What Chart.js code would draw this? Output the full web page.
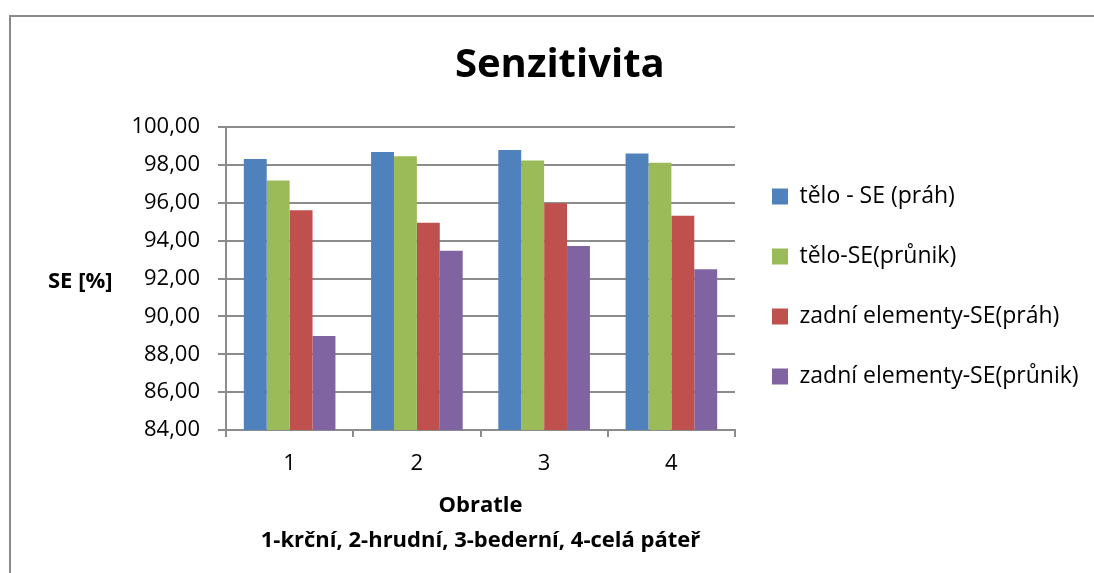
<!DOCTYPE html>
<html>
<head>
<meta charset="utf-8">
<title>Senzitivita</title>
<script src="https://cdn.jsdelivr.net/npm/chart.js@4.4.1/dist/chart.umd.min.js"></script>
<style>
  html, body { margin: 0; padding: 0; background: #fff; }
  #wrap { position: relative; width: 1094px; height: 573px; }
</style>
</head>
<body>
<div id="wrap"><canvas id="chart"></canvas></div>
<script>
const categories = ["1", "2", "3", "4"];
const seriesNames = [
  "tělo - SE (práh)",
  "tělo-SE(průnik)",
  "zadní elementy-SE(práh)",
  "zadní elementy-SE(průnik)"
];
const teloPrah = [98.31, 98.68, 98.78, 98.60];
const teloPrunik = [97.17, 98.45, 98.23, 98.11];
const zadniPrah = [95.61, 94.94, 95.98, 95.32];
const zadniPrunik = [88.97, 93.46, 93.72, 92.49];
const yTicks = { min: 84, max: 100, step: 2 };

const chartTitle = "Senzitivita";
const yTitle = "SE [%]";
const xTitle = ["Obratle", "1-krční, 2-hrudní, 3-bederní, 4-celá páteř"];

const colors = ["#4F81BD", "#9BBB59", "#C0504D", "#8064A2"];
const gridColor = "#8c8c8c";
const FONT = "'Open Sans', 'DejaVu Sans', sans-serif";

const W = 1094;
const padLeft = 31;
const plotLeft = 226;
const plotRight = 735;
const legendFont = 23;
const legendPad = 37;
const legendBox = 16;

// room left over on the right once the legend sits next to the plot
function legendRightPadding() {
  const ctx = document.createElement("canvas").getContext("2d");
  ctx.font = legendFont + "px " + FONT;
  const textW = Math.max(...seriesNames.map((n) => ctx.measureText(n).width));
  const legendW = legendPad + legendBox + legendFont / 2 + textW + 10;
  return Math.max(0, W - plotRight - legendW);
}

function dataset(label, data, color) {
  return {
    label,
    data,
    backgroundColor: color,
    borderColor: color,
    borderWidth: 0,
    categoryPercentage: 0.72,
    barPercentage: 1
  };
}

// frame around the whole chart + horizontal y-axis caption
const decor = {
  id: "decor",
  beforeDraw(chart) {
    const ctx = chart.ctx;
    ctx.save();
    ctx.strokeStyle = "#8a8a8a";
    ctx.lineWidth = 2;
    ctx.beginPath();
    ctx.moveTo(10, chart.height + 5);
    ctx.lineTo(10, 16);
    ctx.lineTo(chart.width + 5, 16);
    ctx.stroke();
    ctx.restore();
  },
  afterDraw(chart) {
    const ctx = chart.ctx;
    const y = chart.scales.y;
    ctx.save();
    ctx.font = "bold 22px " + FONT;
    ctx.fillStyle = "#000";
    ctx.textBaseline = "middle";
    ctx.textAlign = "left";
    ctx.fillText(yTitle, y.left + 17, (chart.chartArea.top + chart.chartArea.bottom) / 2 + 3);
    ctx.restore();
  }
};

Chart.defaults.font.family = FONT;
Chart.defaults.color = "#000";

new Chart(document.getElementById("chart"), {
  type: "bar",
  data: {
    labels: categories,
    datasets: [
      dataset(seriesNames[0], teloPrah, colors[0]),
      dataset(seriesNames[1], teloPrunik, colors[1]),
      dataset(seriesNames[2], zadniPrah, colors[2]),
      dataset(seriesNames[3], zadniPrunik, colors[3])
    ]
  },
  options: {
    responsive: true,
    maintainAspectRatio: false,
    animation: false,
    layout: { padding: { left: padLeft, right: legendRightPadding(), top: 0, bottom: 0 } },
    plugins: {
      title: {
        display: true,
        text: chartTitle,
        font: { size: 40, weight: "bold" },
        color: "#000",
        padding: { top: 42, bottom: 37 }
      },
      legend: {
        position: "right",
        maxWidth: 500,
        labels: {
          boxWidth: legendBox,
          boxHeight: legendBox,
          padding: legendPad,
          font: { size: legendFont },
          color: "#000"
        }
      },
      tooltip: { enabled: false }
    },
    scales: {
      x: {
        afterFit: (s) => { s.height = 143; },
        grid: {
          offset: true,
          drawOnChartArea: false,
          drawTicks: true,
          tickLength: 7,
          color: gridColor,
          lineWidth: 2
        },
        border: { color: gridColor, width: 2 },
        ticks: { padding: 14, font: { size: 22 }, color: "#000" },
        title: {
          display: true,
          text: xTitle,
          font: { size: 22, weight: "bold", lineHeight: "35px" },
          color: "#000",
          padding: { top: 0, bottom: 15 }
        }
      },
      y: {
        min: yTicks.min,
        max: yTicks.max,
        afterFit: (s) => { s.width = plotLeft - padLeft; },
        grid: { color: gridColor, lineWidth: 2, tickLength: 8 },
        border: { color: gridColor, width: 2 },
        ticks: {
          stepSize: yTicks.step,
          padding: 18,
          font: { size: 22 },
          color: "#000",
          callback: (v) => Number(v).toFixed(2).replace(".", ",")
        }
      }
    }
  },
  plugins: [decor]
});
</script>
</body>
</html>
